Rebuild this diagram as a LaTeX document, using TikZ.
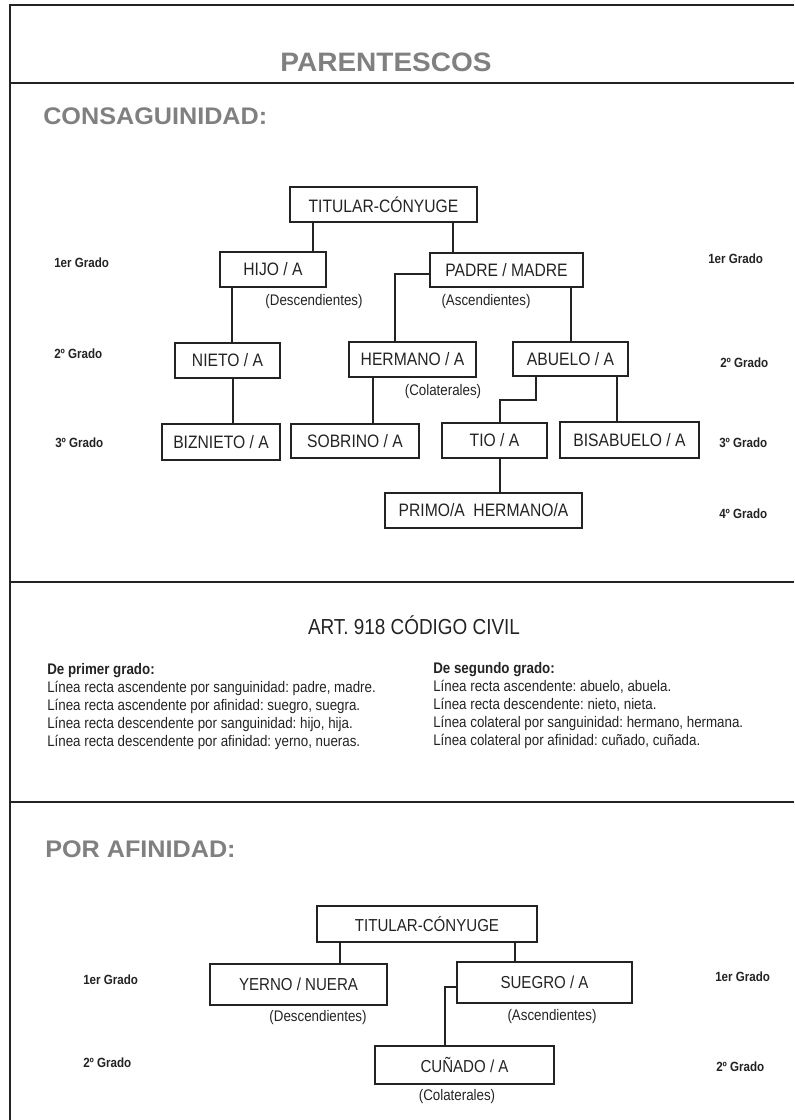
\documentclass[tikz,border=0pt]{standalone}
\usepackage{fontspec}
\setmainfont{Liberation Sans}[FakeStretch=0.87]
\newfontfamily\headfont{Liberation Sans}[FakeStretch=1.05]
\definecolor{headgray}{RGB}{128,128,128}
\definecolor{ink}{RGB}{35,35,35}
\frenchspacing
\tikzset{
  frameline/.style={line width=1.1pt, draw=ink},
  conn/.style={line width=0.8pt, draw=ink},
  box/.style={draw=ink, line width=1.1pt, inner sep=0pt, text=ink,
    font=\fontsize{13.5}{16}\selectfont},
  boxb/.style={box, font=\fontsize{13}{16}\selectfont},
  side/.style={text=ink, inner sep=0pt, font=\fontsize{11.5}{14}\selectfont},
  grado/.style={anchor=west, text=ink, inner sep=0pt, font=\bfseries\fontsize{10}{12}\selectfont},
  heading/.style={anchor=west, text=headgray, inner sep=0pt, font=\headfont\bfseries\fontsize{18}{20}\selectfont},
  bodyline/.style={anchor=base west, text=ink, inner sep=0pt, font=\fontsize{11.5}{14}\selectfont},
}
\begin{document}
\begin{tikzpicture}[x=0.75pt, y=-0.75pt]
\useasboundingbox (0,0) rectangle (794,1120);
% frame
\draw[frameline] (794,5) -- (10,5) -- (10,1120);
\draw[frameline] (10,83) -- (794,83);
\draw[frameline] (10,582) -- (794,582);
\draw[frameline] (10,802) -- (794,802);

% title & headings
\node[anchor=center, text=headgray, inner sep=0pt, font=\headfont\bfseries\fontsize{20}{22}\selectfont] (title) at (386,62) {PARENTESCOS};
\node[heading] (consag) at (43,116) {CONSAGUINIDAD:};

% ---- top tree ----
\node[box, minimum width=187*0.75pt, minimum height=35*0.75pt] (tit1) at (383.5,204.5) {TITULAR-CÓNYUGE};
\node[box, minimum width=106*0.75pt, minimum height=35*0.75pt] (hijo) at (273,269.5) {HIJO / A};
\node[box, minimum width=153*0.75pt, minimum height=34*0.75pt] (padre) at (506.5,270) {PADRE / MADRE};
\node[box, minimum width=105*0.75pt, minimum height=35*0.75pt] (nieto) at (227.5,360.5) {NIETO / A};
\node[box, minimum width=127*0.75pt, minimum height=35*0.75pt] (hermano) at (412.5,359.5) {HERMANO / A};
\node[box, minimum width=115*0.75pt, minimum height=34*0.75pt] (abuelo) at (570.5,359) {ABUELO / A};
\node[box, minimum width=118*0.75pt, minimum height=36*0.75pt] (biznieto) at (221,442) {BIZNIETO / A};
\node[box, minimum width=128*0.75pt, minimum height=34*0.75pt] (sobrino) at (355,441) {SOBRINO / A};
\node[box, minimum width=105*0.75pt, minimum height=35*0.75pt] (tio) at (494.5,440.5) {TIO / A};
\node[box, minimum width=139*0.75pt, minimum height=36*0.75pt] (bisabuelo) at (629.5,440) {BISABUELO / A};
\node[box, minimum width=197*0.75pt, minimum height=35*0.75pt] (primo) at (483.5,510.5) {PRIMO/A\ \ HERMANO/A};

\node[side] (desc1) at (314,302) {(Descendientes)};
\node[side] (asc1) at (486,302) {(Ascendientes)};
\node[side] (col1) at (443,392) {(Colaterales)};

\draw[conn] (tit1.south -| 313,0) -- (hijo.north -| 313,0);
\draw[conn] (tit1.south -| 453,0) -- (padre.north -| 453,0);
\draw[conn] (padre.west |- 0,274) -- (395,274) -- (hermano.north -| 395,0);
\draw[conn] (padre.south -| 571,0) -- (abuelo.north -| 571,0);
\draw[conn] (hijo.south -| 232,0) -- (nieto.north -| 232,0);
\draw[conn] (nieto.south -| 233,0) -- (biznieto.north -| 233,0);
\draw[conn] (hermano.south -| 373,0) -- (sobrino.north -| 373,0);
\draw[conn] (abuelo.south -| 536,0) -- (536,400) -- (500,400) -- (tio.north -| 500,0);
\draw[conn] (abuelo.south -| 617,0) -- (bisabuelo.north -| 617,0);
\draw[conn] (tio.south -| 500,0) -- (primo.north -| 500,0);

\node[grado] (g1l) at (54,263) {1er Grado};
\node[grado] (g2l) at (54,354) {2º Grado};
\node[grado] (g3l) at (55,443) {3º Grado};
\node[grado] (g1r) at (708,259) {1er Grado};
\node[grado] (g2r) at (720,363) {2º Grado};
\node[grado] (g3r) at (719,443) {3º Grado};
\node[grado] (g4r) at (719,514) {4º Grado};

% ---- article ----
\node[text=ink, inner sep=0pt, font=\fontsize{16.3}{19}\selectfont] (art) at (414,625) {ART. 918 CÓDIGO CIVIL};

\node[bodyline, font=\bfseries\fontsize{11.5}{14}\selectfont] (p0) at (47,674) {De primer grado:};
\node[bodyline] (p1) at (47,692.5) {Línea recta ascendente por sanguinidad: padre, madre.};
\node[bodyline] (p2) at (47,710.5) {Línea recta ascendente por afinidad: suegro, suegra.};
\node[bodyline] (p3) at (47,728.5) {Línea recta descendente por sanguinidad: hijo, hija.};
\node[bodyline] (p4) at (47,746.5) {Línea recta descendente por afinidad: yerno, nueras.};

\node[bodyline, font=\bfseries\fontsize{11.5}{14}\selectfont] (s0) at (433,673) {De segundo grado:};
\node[bodyline] (s1) at (433,691.5) {Línea recta ascendente: abuelo, abuela.};
\node[bodyline] (s2) at (433,709.5) {Línea recta descendente: nieto, nieta.};
\node[bodyline] (s3) at (433,727.5) {Línea colateral por sanguinidad: hermano, hermana.};
\node[bodyline] (s4) at (433,745.5) {Línea colateral por afinidad: cuñado, cuñada.};

% ---- affinity tree ----
\node[heading] (afin) at (45,849) {POR AFINIDAD:};

\node[boxb, minimum width=220*0.75pt, minimum height=36*0.75pt] (tit2) at (427,924) {TITULAR-CÓNYUGE};
\node[boxb, minimum width=177*0.75pt, minimum height=41*0.75pt] (yerno) at (298.5,984.5) {YERNO / NUERA};
\node[boxb, minimum width=175*0.75pt, minimum height=41*0.75pt] (suegro) at (544.5,982.5) {SUEGRO / A};
\node[boxb, minimum width=179*0.75pt, minimum height=38*0.75pt] (cunado) at (464.5,1065) {CUÑADO / A};

\node[side] (desc2) at (318,1018) {(Descendientes)};
\node[side] (asc2) at (552,1017) {(Ascendientes)};
\node[side] (col2) at (457,1097) {(Colaterales)};

\draw[conn] (tit2.south -| 340,0) -- (yerno.north -| 340,0);
\draw[conn] (tit2.south -| 515,0) -- (suegro.north -| 515,0);
\draw[conn] (suegro.west |- 0,987) -- (445,987) -- (cunado.north -| 445,0);

\node[grado] (h1l) at (83,980) {1er Grado};
\node[grado] (h2l) at (83,1063) {2º Grado};
\node[grado] (h1r) at (715,977) {1er Grado};
\node[grado] (h2r) at (716,1067) {2º Grado};
\end{tikzpicture}
\end{document}
